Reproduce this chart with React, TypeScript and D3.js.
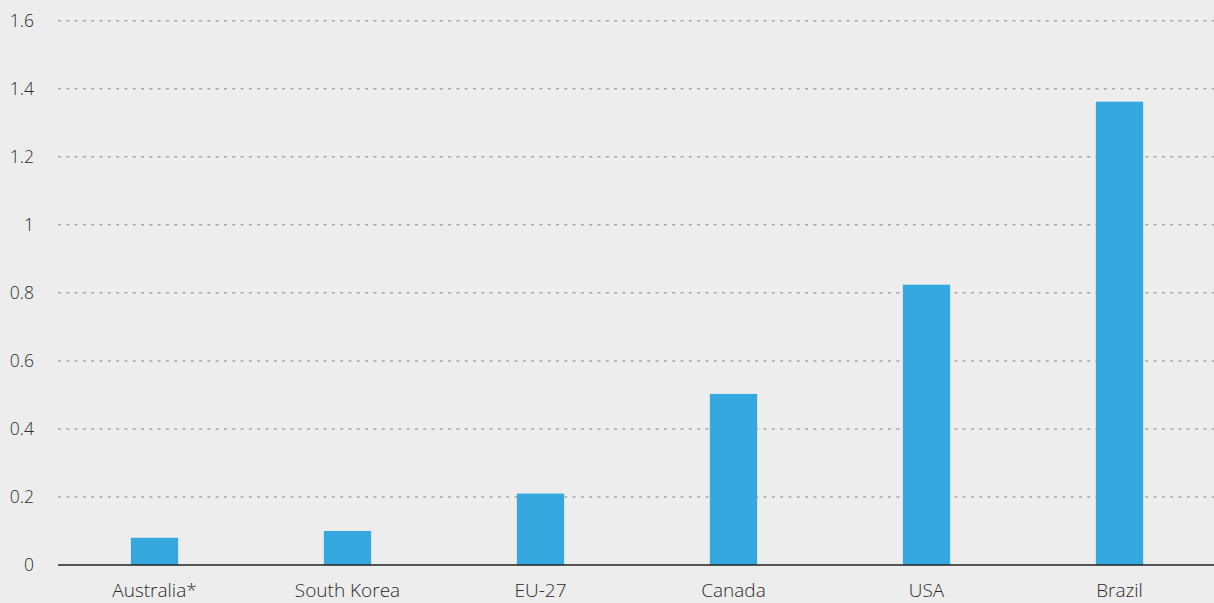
import React from "react";
import * as d3 from "d3";

const categories = ["Australia*", "South Korea", "EU-27", "Canada", "USA", "Brazil"];
const values = [0.08, 0.1, 0.21, 0.503, 0.824, 1.362];
const yTicks = [0, 0.2, 0.4, 0.6, 0.8, 1, 1.2, 1.4, 1.6];

const W = 1214;
const H = 603;
const left = 58;
const right = 1214;
const y0 = 565;
const yTop = 20.7;

export default function App() {
  const x = d3.scaleBand<string>().domain(categories).range([left, right + 2]).paddingInner(0.755).paddingOuter(0.3775);
  const y = d3.scaleLinear().domain([0, 1.6]).range([y0, yTop]);
  const font = "'Open Sans', 'Segoe UI', sans-serif";
  return (
    <svg width={W} height={H} style={{ position: "absolute", left: 0, top: 0, display: "block" }}>
      <rect x={0} y={0} width={W} height={H} fill="#ededed" />
      {yTicks.map((t) => (
        <g key={t}>
          {t !== 0 && (
            <line x1={left} x2={right} y1={y(t)} y2={y(t)} stroke="#a8a8a8" strokeWidth={1.5} strokeDasharray="3 5.3" />
          )}
          <text x={34} y={y(t)} dy="0.35em" textAnchor="end" fontFamily={font} fontWeight={300} fontSize={17.5} fill="#2a2a2a">
            {d3.format("~g")(t)}
          </text>
        </g>
      ))}
      {categories.map((c, i) => (
        <rect key={c} x={x(c)} y={y(values[i])} width={x.bandwidth()} height={y0 - y(values[i])} fill="#35a8e0" />
      ))}
      <line x1={left} x2={right} y1={y0} y2={y0} stroke="#222" strokeWidth={1.5} />
      {categories.map((c) => (
        <text key={c} x={(x(c) as number) + x.bandwidth() / 2} y={597} textAnchor="middle" fontFamily={font} fontWeight={300} fontSize={19} fill="#2a2a2a">
          {c}
        </text>
      ))}
    </svg>
  );
}
